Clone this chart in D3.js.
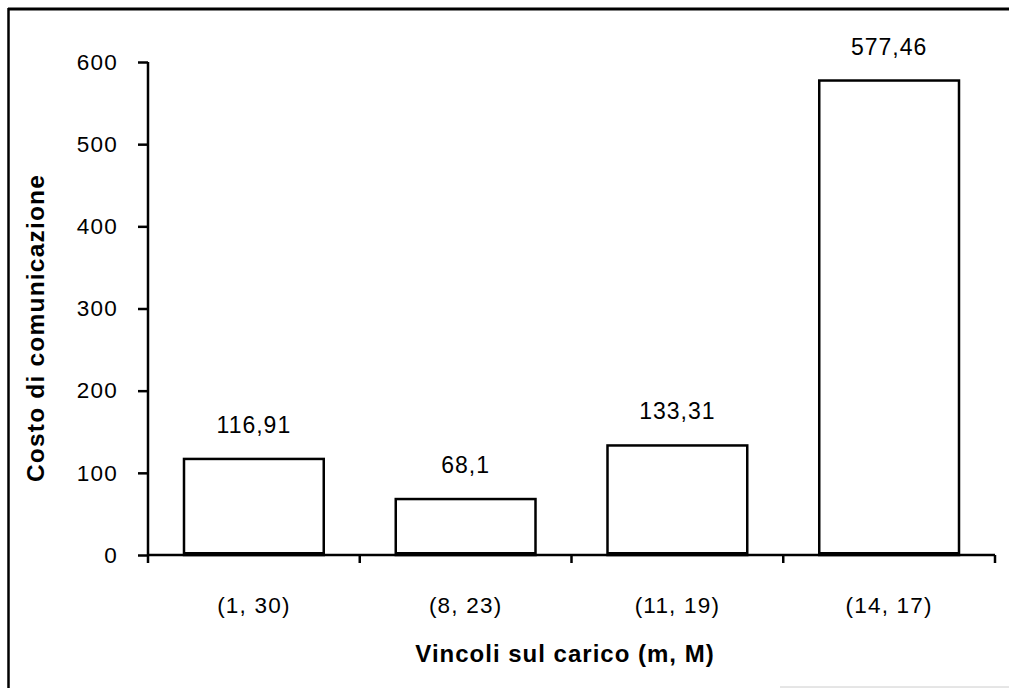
<!DOCTYPE html>
<html><head><meta charset="utf-8">
<script src="https://cdn.jsdelivr.net/npm/d3@7"></script>
<style>
html,body{margin:0;padding:0;background:#fff;}
svg{display:block;}
text{font-family:"Liberation Sans",Arial,sans-serif;fill:#000;}
</style></head>
<body>
<script>
const categories = ["(1, 30)", "(8, 23)", "(11, 19)", "(14, 17)"];
const values = [116.91, 68.1, 133.31, 577.46];
const yTicks = [0, 100, 200, 300, 400, 500, 600];
const yTitle = "Costo di comunicazione";
const xTitle = "Vincoli sul carico (m, M)";

const W = 1009, H = 688;
const svg = d3.select("body").append("svg").attr("width", W).attr("height", H);

// frame
svg.append("line").attr("x1", 8).attr("x2", W).attr("y1", 9).attr("y2", 9).attr("stroke", "#000").attr("stroke-width", 3);
svg.append("line").attr("x1", 8.5).attr("x2", 8.5).attr("y1", 8).attr("y2", H).attr("stroke", "#000").attr("stroke-width", 2.5);
svg.append("line").attr("x1", 780).attr("x2", W).attr("y1", 687).attr("y2", 687).attr("stroke", "#ccc").attr("stroke-width", 1);

const x0 = 148, x1 = 995, yTop = 62, yBot = 555;
const x = d3.scaleBand().domain(categories).range([x0, x1]).paddingInner(0.34).paddingOuter(0.17);
const y = d3.scaleLinear().domain([0, 600]).range([yBot, yTop]);
const loc = d3.formatLocale({decimal: ",", thousands: ".", grouping: [3], currency: ["", "€"]});
const fmt = v => loc.format(",")(v);

// bars
svg.selectAll("rect.bar").data(values).join("rect")
  .attr("class", "bar")
  .attr("x", (d, i) => x(categories[i]))
  .attr("width", x.bandwidth())
  .attr("y", d => y(d))
  .attr("height", d => y(0) - y(d))
  .attr("fill", "#fff").attr("stroke", "#000").attr("stroke-width", 2.5);

// bar bottoms thicker
svg.selectAll("line.bb").data(values).join("line")
  .attr("x1", (d, i) => x(categories[i])).attr("x2", (d, i) => x(categories[i]) + x.bandwidth())
  .attr("y1", y(0) - 1.5).attr("y2", y(0) - 1.5).attr("stroke", "#000").attr("stroke-width", 3);

// value labels
svg.selectAll("text.val").data(values).join("text")
  .attr("class", "val")
  .attr("x", (d, i) => x(categories[i]) + x.bandwidth() / 2)
  .attr("y", d => y(d) - 26)
  .attr("text-anchor", "middle")
  .attr("font-size", 23).attr("letter-spacing", 1)
  .text(d => fmt(d));

// Y axis
const yAxis = svg.append("g").attr("transform", `translate(${x0},0)`)
  .call(d3.axisLeft(y).tickValues(yTicks).tickSize(10).tickPadding(20).tickFormat(d => d));
yAxis.select(".domain").attr("d", `M0,${yTop}V${yBot + 8}`).attr("stroke-width", 2.5);
yAxis.selectAll(".tick line").attr("stroke-width", 2.5);
yAxis.selectAll(".tick text").attr("font-size", 22.5).attr("letter-spacing", 1.2)
  .attr("font-family", "Liberation Sans, Arial, sans-serif").attr("fill", "#000");

// X axis
const xAxis = svg.append("g").attr("transform", `translate(0,${yBot})`)
  .call(d3.axisBottom(x).tickSize(0).tickPadding(42));
xAxis.select(".domain").attr("d", `M${x0},0H${x1}`).attr("stroke-width", 2.5);
xAxis.selectAll(".tick text").attr("font-size", 22.5).attr("letter-spacing", 1.2)
  .attr("font-family", "Liberation Sans, Arial, sans-serif").attr("fill", "#000");
// ticks at band boundaries
const bounds = categories.map(c => x(c) - x.step() * x.paddingInner() / 2).slice(1).concat([x1]);
svg.selectAll("line.xt").data(bounds).join("line")
  .attr("x1", d => d).attr("x2", d => d).attr("y1", yBot).attr("y2", yBot + 8)
  .attr("stroke", "#000").attr("stroke-width", 2.5);

// titles
svg.append("text").attr("transform", `translate(44,328) rotate(-90)`)
  .attr("text-anchor", "middle").attr("font-size", 24.5).attr("font-weight", "bold").attr("letter-spacing", 1.2)
  .text(yTitle);
svg.append("text").attr("x", 565).attr("y", 662)
  .attr("text-anchor", "middle").attr("font-size", 24).attr("font-weight", "bold").attr("letter-spacing", 1)
  .text(xTitle);
</script>
</body></html>
